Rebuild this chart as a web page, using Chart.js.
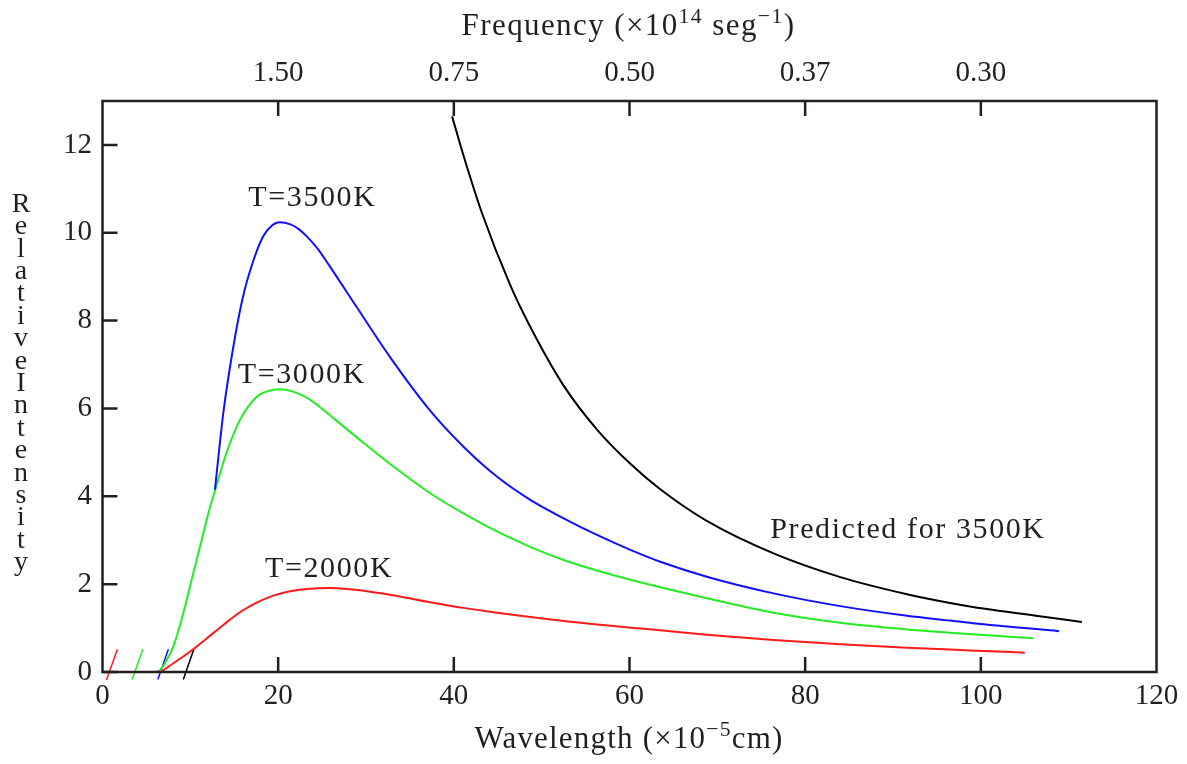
<!DOCTYPE html>
<html>
<head>
<meta charset="utf-8">
<script src="https://cdn.jsdelivr.net/npm/chart.js@4.4.1/dist/chart.umd.min.js"></script>
<style>
html,body{margin:0;padding:0;background:#fff;}
#wrap{width:1187px;height:764px;position:relative;}
</style>
</head>
<body>
<div id="wrap"><canvas id="c" width="1187" height="764"></canvas></div>
<script>
// ---- data ----
const blackX = [39.8, 41.1, 43.2, 46.4, 48.7, 52.5, 56.3, 60.1, 63.5, 68.8, 76.4, 84.0, 91.6, 96.5, 99.1, 106.7, 111.5];
const blackY = [12.65, 11.76, 10.45, 8.82, 7.86, 6.52, 5.52, 4.74, 4.16, 3.44, 2.70, 2.16, 1.77, 1.57, 1.48, 1.27, 1.14];

const blueX = [12.8, 13.75, 14.9, 16.0, 17.2, 18.3, 19.2, 20.2, 21.4, 22.3, 23.2, 24.4, 25.9, 28.9, 32.7, 37.3, 41.1, 44.9, 48.7, 52.5, 56.3, 60.1, 63.5, 68.8, 76.4, 84.0, 91.6, 96.5, 99.1, 108.9];
const blueY = [4.15, 5.89, 7.41, 8.55, 9.38, 9.92, 10.15, 10.24, 10.19, 10.09, 9.93, 9.66, 9.23, 8.32, 7.18, 5.95, 5.13, 4.45, 3.92, 3.50, 3.12, 2.78, 2.51, 2.17, 1.79, 1.50, 1.28, 1.17, 1.11, 0.93];

const greenX = [6.4, 7.1, 8.06, 9.2, 10.15, 11.1, 12.05, 13.0, 14.1, 15.65, 17.6, 18.9, 20.2, 21.6, 23.2, 24.7, 26.3, 29.7, 33.5, 37.3, 41.1, 44.9, 48.7, 52.5, 56.3, 60.1, 63.5, 68.8, 76.4, 84.0, 91.6, 99.1, 106.0];
const greenY = [0, 0.20, 0.58, 1.34, 2.10, 2.85, 3.61, 4.26, 4.98, 5.74, 6.27, 6.40, 6.44, 6.39, 6.25, 6.04, 5.78, 5.22, 4.62, 4.07, 3.61, 3.20, 2.85, 2.55, 2.31, 2.10, 1.93, 1.68, 1.35, 1.12, 0.97, 0.86, 0.77];

const redX = [4.84, 6.6, 8.06, 9.96, 11.9, 13.75, 15.65, 17.55, 19.45, 21.35, 23.25, 26.0, 29.7, 33.5, 37.3, 41.1, 44.9, 48.7, 52.5, 56.3, 60.1, 63.5, 68.8, 76.4, 84.0, 91.6, 96.5, 100.3, 105.0];
const redY = [0, 0.02, 0.20, 0.46, 0.77, 1.07, 1.36, 1.58, 1.74, 1.84, 1.89, 1.91, 1.85, 1.73, 1.59, 1.46, 1.35, 1.25, 1.16, 1.08, 1.01, 0.95, 0.85, 0.73, 0.63, 0.55, 0.51, 0.48, 0.44];

// small slanted marks near the origin
const markRedX = [0.45, 1.7],  markRedY = [-0.18, 0.52];
const markGreenX = [3.37, 4.6], markGreenY = [-0.17, 0.52];
const markBlueX = [6.3, 7.5],  markBlueY = [-0.17, 0.52];
const markBlackX = [9.2, 10.4], markBlackY = [-0.17, 0.52];

const xTicks = [0, 20, 40, 60, 80, 100, 120];
const yTicks = [0, 2, 4, 6, 8, 10, 12];
const freqTickPos = [20, 40, 60, 80, 100];
const freqLabels = ['1.50', '0.75', '0.50', '0.37', '0.30'];

const curveLabels = [
  {text: 'T=3500K', x: 23.9, y: 10.6},
  {text: 'T=3000K', x: 22.7, y: 6.58},
  {text: 'T=2000K', x: 25.8, y: 2.16},
  {text: 'Predicted for 3500K', x: 91.7, y: 3.04}
];

const SERIF = '"Liberation Serif", "DejaVu Serif", serif';
const INK = '#231f20';

function pts(xs, ys){ return xs.map((x,i)=>({x:x, y:ys[i]})); }
function curve(xs, ys, color, w){
  return {data: pts(xs, ys), borderColor: color, borderWidth: w, pointRadius: 0,
          cubicInterpolationMode: 'monotone', fill: false};
}
function mark(xs, ys, color){
  return {data: pts(xs, ys), borderColor: color, borderWidth: 1.5, pointRadius: 0, fill: false, clip: false, tension: 0};
}

function drawRich(ctx, segs, cx, base, size, spacing){
  ctx.letterSpacing = spacing + 'px';
  let total = 0;
  const parts = segs.map(s=>{
    const fs = s.sup ? size*0.7 : size;
    ctx.font = fs + 'px ' + SERIF;
    const w = ctx.measureText(s.t).width;
    total += w;
    return {t:s.t, fs:fs, w:w, dy: s.sup ? -size*0.4 : 0};
  });
  let x = cx - total/2;
  ctx.textAlign = 'left';
  ctx.textBaseline = 'alphabetic';
  parts.forEach(p=>{
    ctx.font = p.fs + 'px ' + SERIF;
    ctx.fillText(p.t, x, base + p.dy);
    x += p.w;
  });
  ctx.letterSpacing = '0px';
}

const decor = {
  id: 'decor',
  afterDraw(chart){
    const ctx = chart.ctx, a = chart.chartArea;
    const xs = chart.scales.x, ys = chart.scales.y;
    ctx.save();
    ctx.strokeStyle = INK;
    ctx.lineWidth = 2.5;
    ctx.strokeRect(a.left, a.top, a.right - a.left, a.bottom - a.top);
    // inward tick marks
    ctx.beginPath();
    yTicks.forEach(v=>{ const p = ys.getPixelForValue(v); ctx.moveTo(a.left, p); ctx.lineTo(a.left + 15, p); });
    xTicks.forEach(v=>{ if(v>0 && v<120){ const p = xs.getPixelForValue(v); ctx.moveTo(p, a.bottom); ctx.lineTo(p, a.bottom - 15); }});
    freqTickPos.forEach(v=>{ const p = chart.scales.x2.getPixelForValue(v); ctx.moveTo(p, a.top); ctx.lineTo(p, a.top + 15); });
    ctx.stroke();
    // curve labels
    ctx.fillStyle = INK;
    ctx.font = '30px ' + SERIF;
    ctx.textBaseline = 'alphabetic';
    ctx.textAlign = 'left';
    ctx.letterSpacing = '1.6px';
    curveLabels.forEach(l=>{
      const w = ctx.measureText(l.text).width;
      ctx.fillText(l.text, xs.getPixelForValue(l.x) - w/2, ys.getPixelForValue(l.y));
    });
    ctx.letterSpacing = '0px';
    // axis titles
    drawRich(ctx, [{t:'Wavelength (\u00d710'}, {t:'\u22125', sup:true}, {t:'cm)'}], 629, 748, 31, 1.2);
    drawRich(ctx, [{t:'Frequency (\u00d710'}, {t:'14', sup:true}, {t:' seg'}, {t:'\u22121', sup:true}, {t:')'}], 628.5, 35, 31, 1.4);
    // stacked y title
    const yt = 'RelativeIntensity';
    ctx.font = '28px ' + SERIF;
    ctx.textAlign = 'center';
    for (let i = 0; i < yt.length; i++){
      ctx.fillText(yt[i], 21, 211.7 + i*22.4);
    }
    ctx.restore();
  }
};

new Chart(document.getElementById('c'), {
  type: 'line',
  data: {
    datasets: [
      curve(blackX, blackY, '#000000', 2),
      curve(blueX, blueY, '#1010ff', 2),
      curve(greenX, greenY, '#22ee22', 2),
      curve(redX, redY, '#ff1a1a', 2),
      mark(markRedX, markRedY, '#ff1a1a'),
      mark(markGreenX, markGreenY, '#22ee22'),
      mark(markBlueX, markBlueY, '#1010ff'),
      mark(markBlackX, markBlackY, '#000000')
    ]
  },
  options: {
    responsive: false,
    animation: false,
    events: [],
    layout: {padding: {left: 0, right: 30.5, top: 0, bottom: 0}},
    plugins: {legend: {display: false}, tooltip: {enabled: false}},
    scales: {
      x: {
        type: 'linear', position: 'bottom', min: 0, max: 120,
        afterBuildTicks: s => { s.ticks = xTicks.map(v=>({value:v})); },
        afterFit: s => { s.height = 92; },
        grid: {display: false, drawTicks: false},
        border: {display: false},
        ticks: {color: INK, padding: 7, maxRotation: 0, font: {family: SERIF, size: 29}}
      },
      x2: {
        type: 'linear', position: 'top', min: 0, max: 120,
        afterBuildTicks: s => { s.ticks = freqTickPos.map(v=>({value:v})); },
        afterFit: s => { s.height = 101; },
        grid: {display: false, drawTicks: false},
        border: {display: false},
        ticks: {color: INK, padding: 10, maxRotation: 0, font: {family: SERIF, size: 29},
                callback: v => { const i = freqTickPos.indexOf(v); return i >= 0 ? freqLabels[i] : ''; }}
      },
      y: {
        type: 'linear', position: 'left', min: 0, max: 13,
        afterBuildTicks: s => { s.ticks = yTicks.map(v=>({value:v})); },
        afterFit: s => { s.width = 102.5; },
        grid: {display: false, drawTicks: false},
        border: {display: false},
        ticks: {color: INK, padding: 10.5, font: {family: SERIF, size: 29}}
      }
    }
  },
  plugins: [decor]
});
</script>
</body>
</html>
